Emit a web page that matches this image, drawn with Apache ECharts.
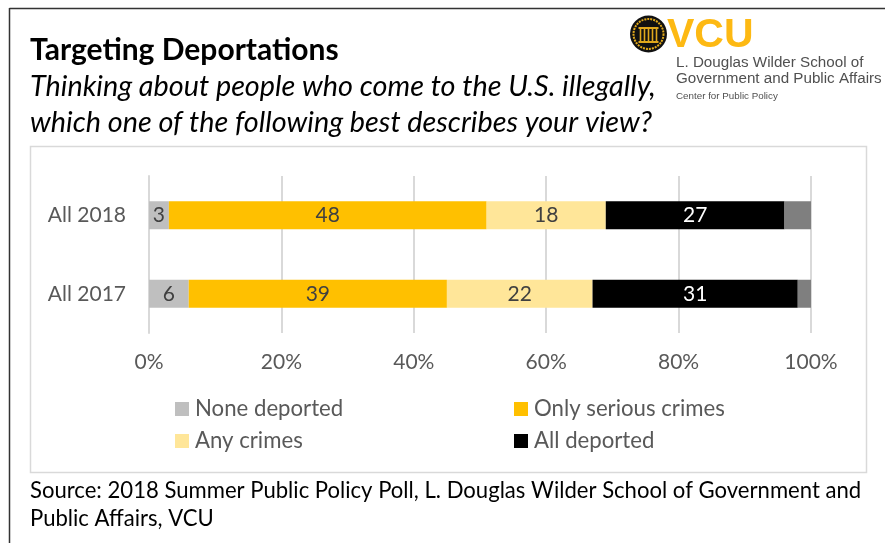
<!DOCTYPE html>
<html>
<head>
<meta charset="utf-8">
<style>html,body{margin:0;padding:0;background:#fff}#chart{width:885px;height:543px}</style>
<script src="https://cdn.jsdelivr.net/npm/echarts@6/dist/echarts.min.js"></script>
</head>
<body>
<div id="chart"></div>
<script>
// Survey groups and the answer shares for each group
const categories = ['All 2018', 'All 2017'];
const noneDeported = [3, 6];
const onlySerious = [48, 39];
const anyCrimes = [18, 22];
const allDeported = [27, 31];
const noAnswer = [4, 2];
const tickLabels = ['0%', '20%', '40%', '60%', '80%', '100%'];

const FONT = 'Lato';
const LOGO_FONT = '"Liberation Sans"';
const labelDark = '#404040';

function segment(name, data, color, labelColor) {
  return {
    name, data, type: 'bar', stack: 'share', barWidth: 28,
    itemStyle: { color },
    label: labelColor ? {
      show: true, position: 'inside', color: labelColor,
      fontFamily: FONT, fontSize: 21
    } : { show: false },
    emphasis: { disabled: true }
  };
}

function text(x, y, str, font, fill, family) {
  return { type: 'text', x, y, silent: true,
    style: { text: str, font: font + ' ' + (family || FONT), fill, verticalAlign: 'middle' } };
}
function frameLine(x1, y1, x2, y2, stroke, lineWidth) {
  return { type: 'line', silent: true, shape: { x1, y1, x2, y2 }, style: { stroke, lineWidth } };
}
function legendColumn(names, left) {
  return {
    data: names, orient: 'vertical', left, top: 398, padding: 0, itemGap: 10,
    itemWidth: 14, itemHeight: 14, icon: 'rect', selectedMode: false,
    textStyle: { color: '#595959', fontFamily: FONT, fontSize: 22.2, lineHeight: 22, padding: [0, 0, 0, 1] }
  };
}

// University seal: dark disc, gold ring, a small colonnade
const sealX = 648.5, sealY = 34;
const seal = [
  { type: 'circle', shape: { cx: sealX, cy: sealY, r: 18.5 }, style: { fill: '#111' } },
  { type: 'circle', shape: { cx: sealX, cy: sealY, r: 15 }, style: { fill: 'none', stroke: '#e0a81c', lineWidth: 2, lineDash: [2, 1] } },
  { type: 'rect', shape: { x: sealX - 10, y: sealY - 7, width: 20, height: 2 }, style: { fill: '#e0a81c' } },
  { type: 'rect', shape: { x: sealX - 10, y: sealY + 7, width: 20, height: 2 }, style: { fill: '#e0a81c' } }
];
[-8, -4, 0, 4, 8].forEach(function (dx) {
  seal.push({ type: 'rect', shape: { x: sealX + dx - 0.8, y: sealY - 5, width: 1.6, height: 12 }, style: { fill: '#e0a81c' } });
});

const chart = echarts.init(document.getElementById('chart'), null, { renderer: 'canvas' });
chart.setOption({
  animation: false,
  backgroundColor: '#fff',
  textStyle: { fontFamily: FONT },
  grid: { left: 149, right: 74, top: 176, height: 157 },
  xAxis: {
    type: 'value', min: 0, max: 100, interval: 20,
    axisLine: { show: false }, axisTick: { show: false },
    splitLine: { lineStyle: { color: '#d9d9d9', width: 2 } },
    axisLabel: {
      color: '#595959', fontFamily: FONT, fontSize: 21, margin: 19,
      formatter: function (v) { return tickLabels[v / 20]; }
    }
  },
  yAxis: {
    type: 'category', inverse: true, data: categories,
    axisLine: { show: true, lineStyle: { color: '#d9d9d9', width: 2 } },
    axisTick: { show: false },
    axisLabel: { color: '#595959', fontFamily: FONT, fontSize: 21, margin: 23 }
  },
  legend: [
    legendColumn(['None deported', 'Any crimes'], 175),
    legendColumn(['Only serious crimes', 'All deported'], 514)
  ],
  series: [
    segment('None deported', noneDeported, '#bfbfbf', labelDark),
    segment('Only serious crimes', onlySerious, '#ffc000', labelDark),
    segment('Any crimes', anyCrimes, '#ffe699', labelDark),
    segment('All deported', allDeported, '#000000', '#ffffff'),
    segment('No answer', noAnswer, '#7f7f7f', null)
  ],
  graphic: [
    frameLine(9.5, 8.5, 885, 8.5, '#333', 1.5),
    frameLine(9.5, 8, 9.5, 543, '#333', 1.5),
    { type: 'rect', silent: true, shape: { x: 30.5, y: 146.5, width: 836, height: 326 }, style: { fill: 'none', stroke: '#d9d9d9', lineWidth: 1.5 } },
    text(30, 50, 'Targeting Deportations', 'bold 30px', '#000'),
    text(30, 87, 'Thinking about people who come to the U.S. illegally,', 'italic 28.8px', '#000'),
    text(30, 123, 'which one of the following best describes your view?', 'italic 28.8px', '#000'),
    text(30, 491, 'Source: 2018 Summer Public Policy Poll, L. Douglas Wilder School of Government and', '22.1px', '#000'),
    text(30, 519, 'Public Affairs, VCU', '22.1px', '#000'),
    ...seal,
    text(667, 36, 'VCU', 'bold 41px', '#fdb913', LOGO_FONT),
    text(676, 63, 'L. Douglas Wilder School of', '15.2px', '#505050', LOGO_FONT),
    text(676, 79, 'Government and Public Affairs', '15.2px', '#505050', LOGO_FONT),
    text(676, 96, 'Center for Public Policy', '9.8px', '#505050', LOGO_FONT)
  ]
});
</script>
</body>
</html>
